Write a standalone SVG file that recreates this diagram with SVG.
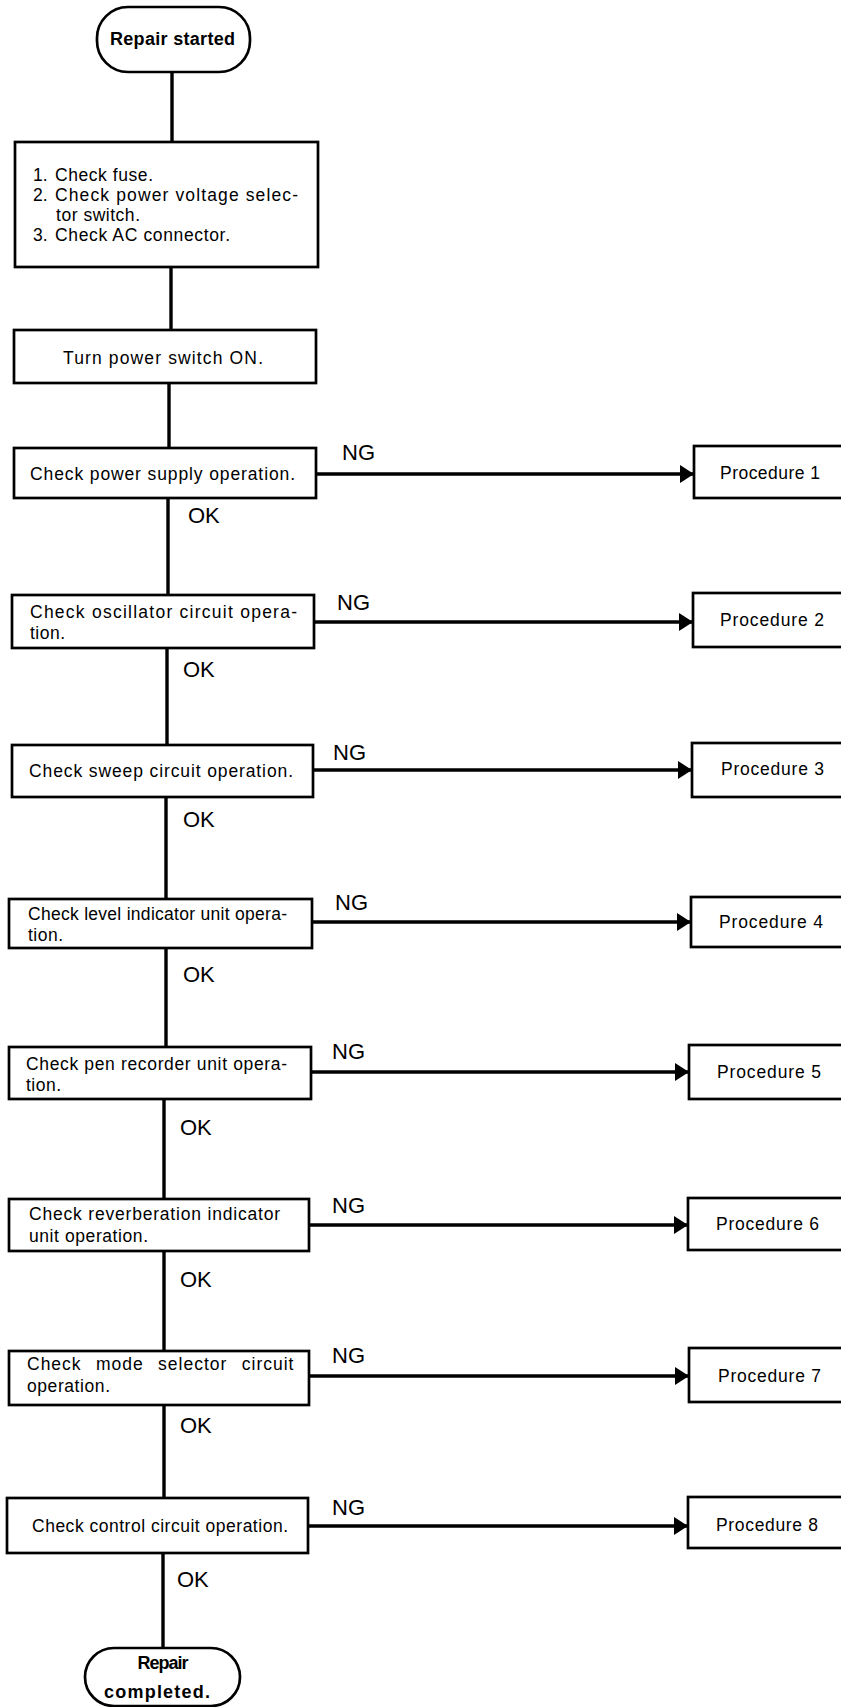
<svg xmlns="http://www.w3.org/2000/svg" width="841" height="1707" viewBox="0 0 841 1707">
<style>
.box{fill:#fff;stroke:#000;stroke-width:2.7}
.t{font-family:"Liberation Sans",Arial,sans-serif;font-size:17.5px;fill:#000}
.b{font-family:"Liberation Sans",Arial,sans-serif;font-size:18px;font-weight:bold;fill:#000}
.lbl{font-family:"Liberation Sans",Arial,sans-serif;font-size:22px;fill:#000}
.trunk{stroke:#000;stroke-width:3.4;fill:none}
.ng{stroke:#000;stroke-width:3.6;fill:none;marker-end:url(#ah)}
</style>
<defs>
<marker id="ah" markerUnits="userSpaceOnUse" markerWidth="16" markerHeight="20" refX="14" refY="9" orient="auto">
<path d="M0,0 L14,9 L0,18 Z" fill="#000"/>
</marker>
</defs>
<rect width="841" height="1707" fill="#fff"/>

<g id="connectors">
<path class="trunk" d="M172,72 V142"/>
<path class="trunk" d="M171,267 V330"/>
<path class="trunk" d="M169,383 V448"/>
<path class="trunk" d="M168,498 V595"/>
<path class="trunk" d="M167,648 V745"/>
<path class="trunk" d="M166,797 V899"/>
<path class="trunk" d="M166,948 V1047"/>
<path class="trunk" d="M164,1099 V1199"/>
<path class="trunk" d="M164,1251 V1351"/>
<path class="trunk" d="M164,1405 V1498"/>
<path class="trunk" d="M163,1553 V1648"/>
<path class="ng" d="M316,474 H694"/>
<path class="ng" d="M314,622 H693"/>
<path class="ng" d="M313,770 H692"/>
<path class="ng" d="M312,922 H691"/>
<path class="ng" d="M311,1072 H689"/>
<path class="ng" d="M309,1225 H688"/>
<path class="ng" d="M309,1376 H689"/>
<path class="ng" d="M308,1526 H688"/>
<text class="lbl" x="342" y="460">NG</text>
<text class="lbl" x="188" y="523">OK</text>
<text class="lbl" x="337" y="610">NG</text>
<text class="lbl" x="183" y="677">OK</text>
<text class="lbl" x="333" y="760">NG</text>
<text class="lbl" x="183" y="827">OK</text>
<text class="lbl" x="335" y="910">NG</text>
<text class="lbl" x="183" y="982">OK</text>
<text class="lbl" x="332" y="1059">NG</text>
<text class="lbl" x="180" y="1135">OK</text>
<text class="lbl" x="332" y="1213">NG</text>
<text class="lbl" x="180" y="1287">OK</text>
<text class="lbl" x="332" y="1363">NG</text>
<text class="lbl" x="180" y="1433">OK</text>
<text class="lbl" x="332" y="1515">NG</text>
<text class="lbl" x="177" y="1587">OK</text>
</g>

<g id="start">
<rect class="box" x="97" y="7" width="153" height="65" rx="31" ry="31"/>
<text class="b" x="172.5" y="45" text-anchor="middle" textLength="125">Repair started</text>
</g>

<g id="checks">
<rect class="box" x="15" y="142" width="303" height="125"/>
<text class="t" y="181"><tspan x="33">1.</tspan><tspan x="55" textLength="98">Check fuse.</tspan></text>
<text class="t" y="201"><tspan x="33">2.</tspan><tspan x="55" textLength="243">Check power voltage selec-</tspan></text>
<text class="t" y="221"><tspan x="56" textLength="84">tor switch.</tspan></text>
<text class="t" y="241"><tspan x="33">3.</tspan><tspan x="55" textLength="175">Check AC connector.</tspan></text>
</g>

<g id="power-on">
<rect class="box" x="14" y="330" width="302" height="53"/>
<text class="t" x="63" y="364" textLength="200">Turn power switch ON.</text>
</g>

<g id="step1">
<rect class="box" x="14" y="448" width="302" height="50"/>
<text class="t" x="30" y="480" textLength="265">Check power supply operation.</text>
</g>

<g id="step2">
<rect class="box" x="12" y="595" width="302" height="53"/>
<text class="t" x="30" y="618" textLength="267">Check oscillator circuit opera-</text>
<text class="t" x="30" y="639" textLength="35">tion.</text>
</g>

<g id="step3">
<rect class="box" x="12" y="745" width="301" height="52"/>
<text class="t" x="29" y="777" textLength="264">Check sweep circuit operation.</text>
</g>

<g id="step4">
<rect class="box" x="9" y="899" width="303" height="49"/>
<text class="t" x="28" y="920" textLength="259">Check level indicator unit opera-</text>
<text class="t" x="28" y="941" textLength="35">tion.</text>
</g>

<g id="step5">
<rect class="box" x="9" y="1047" width="302" height="52"/>
<text class="t" x="26" y="1070" textLength="261">Check pen recorder unit opera-</text>
<text class="t" x="26" y="1091" textLength="35">tion.</text>
</g>

<g id="step6">
<rect class="box" x="9" y="1199" width="300" height="52"/>
<text class="t" x="29" y="1220" textLength="251">Check reverberation indicator</text>
<text class="t" x="29" y="1242" textLength="119">unit operation.</text>
</g>

<g id="step7">
<rect class="box" x="9" y="1351" width="300" height="54"/>
<text class="t" x="27" y="1370" style="letter-spacing:1px;word-spacing:8.5px">Check mode selector circuit</text>
<text class="t" x="27" y="1392" textLength="83">operation.</text>
</g>

<g id="step8">
<rect class="box" x="7" y="1498" width="301" height="55"/>
<text class="t" x="32" y="1532" textLength="256">Check control circuit operation.</text>
</g>

<g id="end">
<rect class="box" x="85" y="1648" width="155" height="58" rx="29" ry="29"/>
<text class="b" x="163" y="1669" text-anchor="middle" textLength="51">Repair</text>
<text class="b" x="157" y="1698" text-anchor="middle" textLength="106">completed.</text>
</g>

<g id="proc1"><rect class="box" x="694" y="446" width="160" height="52"/><text class="t" x="720" y="479" textLength="100">Procedure 1</text></g>
<g id="proc2"><rect class="box" x="693" y="593" width="160" height="54"/><text class="t" x="720" y="626" textLength="104">Procedure 2</text></g>
<g id="proc3"><rect class="box" x="692" y="743" width="160" height="54"/><text class="t" x="721" y="775" textLength="103">Procedure 3</text></g>
<g id="proc4"><rect class="box" x="691" y="897" width="160" height="50"/><text class="t" x="719" y="928" textLength="104">Procedure 4</text></g>
<g id="proc5"><rect class="box" x="689" y="1045" width="160" height="54"/><text class="t" x="717" y="1078" textLength="104">Procedure 5</text></g>
<g id="proc6"><rect class="box" x="688" y="1198" width="160" height="52"/><text class="t" x="716" y="1230" textLength="103">Procedure 6</text></g>
<g id="proc7"><rect class="box" x="689" y="1348" width="160" height="54"/><text class="t" x="718" y="1382" textLength="103">Procedure 7</text></g>
<g id="proc8"><rect class="box" x="688" y="1497" width="160" height="51"/><text class="t" x="716" y="1531" textLength="102">Procedure 8</text></g>
</svg>
